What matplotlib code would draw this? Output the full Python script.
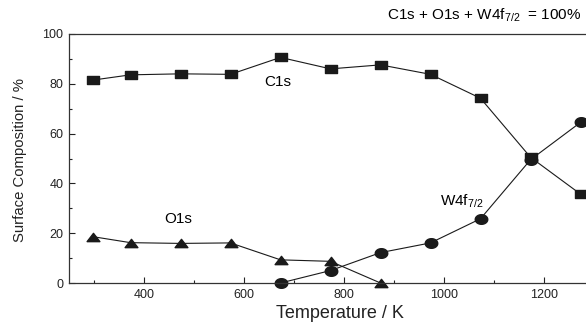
import numpy as np
import matplotlib.pyplot as plt
from matplotlib.path import Path
from matplotlib.ticker import MultipleLocator

plt.rcParams['font.family'] = ['Liberation Sans', 'DejaVu Sans']
plt.rcParams['mathtext.fontset'] = 'custom'
plt.rcParams['mathtext.rm'] = 'Liberation Sans'
plt.rcParams['mathtext.it'] = 'Liberation Sans'

temps = [298, 373, 473, 573, 673, 773, 873, 973, 1073, 1173, 1273]
c1s = [81.5, 83.6, 84.0, 83.8, 90.6, 86.0, 87.6, 83.8, 74.2, 50.5, 35.7]
o1s_t = [298, 373, 473, 573, 673, 773, 873]
o1s = [18.6, 16.2, 15.9, 16.1, 9.3, 8.7, 0.0]
w4f_t = [673, 773, 873, 973, 1073, 1173, 1273]
w4f = [0.0, 5.0, 12.2, 16.1, 25.8, 49.5, 64.5]

# the source picture is stretched sideways, so the markers are too
rect = Path([(-1, -0.72), (1, -0.72), (1, 0.72), (-1, 0.72), (-1, -0.72)],
            [Path.MOVETO, Path.LINETO, Path.LINETO, Path.LINETO, Path.CLOSEPOLY])
tri = Path([(0, 0.65), (-1, -0.65), (1, -0.65), (0, 0.65)],
           [Path.MOVETO, Path.LINETO, Path.LINETO, Path.CLOSEPOLY])
a = np.linspace(0, 2 * np.pi, 60)
ell = Path(np.column_stack([np.cos(a), 0.77 * np.sin(a)]), closed=True)

W, H = 586, 327
fig = plt.figure(figsize=(W / 100, H / 100), dpi=100)
ax = fig.add_axes([69 / W, 44 / H, 525 / W, 249 / H])

col = '#1a1a1a'
ax.plot(temps, c1s, '-', lw=0.8, color=col, marker=rect, ms=8.2, clip_on=False)
ax.plot(o1s_t, o1s, '-', lw=0.8, color=col, marker=tri, ms=9.2, clip_on=False)
ax.plot(w4f_t, w4f, '-', lw=0.8, color=col, marker=ell, ms=9.0, clip_on=False)

ax.set_xlim(250, 1300)
ax.set_ylim(0, 100)
ax.set_xticks([400, 600, 800, 1000, 1200])
ax.xaxis.set_minor_locator(MultipleLocator(100))
ax.yaxis.set_major_locator(MultipleLocator(20))
ax.yaxis.set_minor_locator(MultipleLocator(10))
ax.tick_params(which='both', direction='in', labelsize=9, colors='#222222')
ax.tick_params(which='major', length=4.3, width=0.8, pad=4)
ax.tick_params(which='minor', length=2.4, width=0.8)
ax.tick_params(axis='y', pad=4)
ax.spines['right'].set_visible(False)
for s in ['left', 'bottom', 'top']:
    ax.spines[s].set_linewidth(0.9)
    ax.spines[s].set_color('#333333')

fig.text(340 / W, 1 - 313 / H, 'Temperature / K', fontsize=13,
         ha='center', va='center', color='#222222')
fig.text(20 / W, 1 - 160 / H, 'Surface Composition / %', fontsize=10.7,
         rotation=90, ha='center', va='center', color='#222222')

ax.text(668, 80.8, 'C1s', fontsize=11, ha='center', va='center')
ax.text(468, 25.7, 'O1s', fontsize=11, ha='center', va='center')
ax.text(1078, 30.9, r'W4f$_{7/2}$', fontsize=11, ha='right', va='baseline')
fig.text(581 / W, 1 - 15 / H, r'C1s + O1s + W4f$_{7/2}$  = 100%', fontsize=11,
         ha='right', va='center')

fig.savefig('out.png', dpi=100)
